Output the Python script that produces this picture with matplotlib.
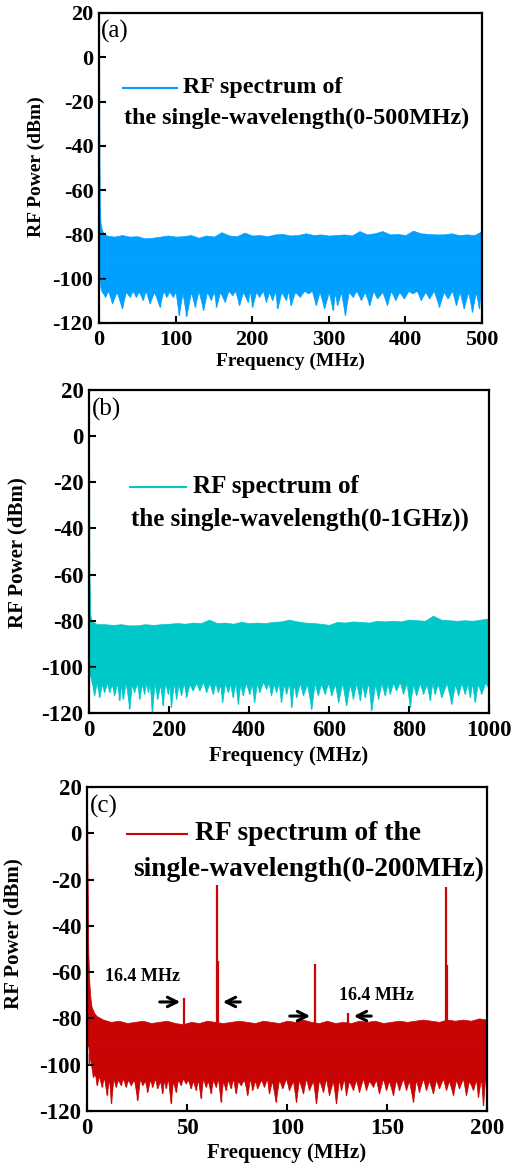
import matplotlib
matplotlib.use('Agg')
import matplotlib.pyplot as plt

plt.rcParams['font.family'] = ['Liberation Serif', 'DejaVu Serif']
plt.rcParams['font.weight'] = 'bold'
plt.rcParams['axes.labelweight'] = 'bold'
plt.rcParams['axes.unicode_minus'] = False

# ---- panel (a): 0-500 MHz, noise floor ----
f_hi_a = [0, 0.5, 1, 2, 3, 5, 10, 20, 30, 40,
          50, 60, 70, 80, 90, 100, 110, 120, 130, 140,
          150, 160, 170, 180, 190, 200, 210, 220, 230, 240,
          250, 260, 270, 280, 290, 300, 310, 320, 330, 340,
          350, 360, 370, 380, 390, 400, 410, 420, 430, 440,
          450, 460, 470, 480, 490, 500]
hi_a = [20, -40, -66, -75, -77, -79, -80.5, -81, -80.3, -81,
        -80.8, -81.8, -81.5, -81, -80.5, -81, -80.8, -80.3, -81.5, -80.5,
        -81, -79, -80.5, -80.8, -79.2, -80.5, -80.3, -80.8, -80, -79.8,
        -80.5, -80.3, -79.5, -80.3, -80, -80.5, -80.3, -80, -80.5, -78.5,
        -80, -79.5, -78.5, -80, -79.8, -80.3, -78.3, -79.5, -79.8, -80,
        -80, -79.5, -80.3, -80, -80.3, -78.5]
# lower edge: deep dips and the floor between them, alternating
f_lo_a = [0, 1, 2, 4, 8, 12, 17, 23, 30, 35,
          40, 44, 48, 52, 57, 61, 66, 72, 79, 84,
          88, 92, 96, 100, 104, 109, 114, 120, 125, 130,
          136, 141, 146, 150, 153, 158, 164, 169, 174, 178,
          183, 188, 194, 197, 200, 205, 209, 214, 218, 222,
          226, 230, 233, 238, 244, 247, 250, 256, 262, 268,
          273, 278, 283, 288, 294, 300, 305, 308, 311, 316,
          321, 326, 331, 336, 342, 347, 353, 358, 363, 370,
          376, 381, 387, 392, 398, 404, 409, 415, 420, 426,
          431, 437, 444, 450, 455, 461, 466, 471, 476, 482,
          487, 492, 496, 500]
lo_a = [-97, -100, -104, -106, -108.1, -105.5, -111.1, -106, -113.4, -106,
        -108.1, -105.5, -108.1, -105.8, -109.6, -105.5, -111.1, -106, -112.6, -105.5,
        -108.1, -105.8, -108.1, -106, -116.4, -106.5, -116.8, -106, -112.6, -105.5,
        -114.1, -106, -109.6, -105.8, -112.6, -106, -110.4, -105.5, -107.4, -105.5,
        -111.9, -106, -110.4, -105.5, -112.6, -106, -108.1, -105.5, -110.4, -106,
        -109.6, -105.8, -113.4, -106, -109.6, -105.5, -111.9, -106, -108.1, -105.5,
        -106.6, -105.5, -111.9, -106, -113.4, -106, -114.1, -106.5, -111.9, -106,
        -116.4, -106, -108.1, -105.5, -109.6, -106, -111.9, -105.5, -108.9, -106,
        -111.9, -105.5, -109.6, -106, -108.9, -105.5, -106.6, -105.5, -109.6, -106,
        -108.9, -105.5, -112.6, -106, -108.9, -105.5, -111.9, -106, -113.4, -106,
        -114.9, -106, -113.4, -100]

# ---- panel (b): 0-1000 MHz ----
f_hi_b = [0, 1, 3, 6, 20, 40, 60, 80, 100, 120,
          140, 160, 180, 200, 220, 240, 260, 280, 300, 320,
          340, 360, 380, 400, 420, 440, 460, 480, 500, 520,
          540, 560, 580, 600, 620, 640, 660, 680, 700, 720,
          740, 760, 780, 800, 820, 840, 860, 880, 900, 920,
          940, 960, 980, 1000]
hi_b = [20, -60, -77, -80, -81.5, -81.5, -81.8, -81.5, -82, -82,
        -81.5, -81.8, -81.5, -81.3, -81, -81.3, -80.8, -81, -79.5, -81,
        -80.8, -81.3, -80.5, -81, -80.8, -81, -80.5, -80.3, -79.5, -80.3,
        -80.8, -81, -81.3, -81.8, -80.5, -80.8, -80.3, -80.5, -80.8, -80,
        -80.3, -80, -80.3, -79.5, -79.8, -80, -77.8, -79.5, -79.8, -80,
        -79.8, -80, -79.5, -79]
f_lo_b = [0, 3, 7, 13, 19, 26, 32, 38, 45, 51,
          57, 63, 70, 76, 80, 84, 92, 101, 107, 113,
          120, 126, 132, 138, 143, 147, 152, 157, 164, 171,
          178, 184, 190, 197, 201, 205, 212, 218, 224, 230,
          237, 243, 251, 259, 268, 276, 285, 293, 301, 309,
          316, 322, 328, 333, 340, 347, 353, 359, 366, 372,
          378, 384, 392, 401, 407, 413, 420, 426, 435, 443,
          449, 455, 462, 468, 474, 480, 487, 493, 500, 506,
          512, 518, 527, 535, 545, 556, 564, 572, 580, 589,
          598, 606, 615, 623, 633, 643, 652, 660, 668, 677,
          683, 689, 698, 706, 715, 723, 731, 739, 746, 752,
          760, 768, 777, 785, 794, 802, 810, 818, 827, 835,
          844, 852, 858, 864, 872, 881, 894, 906, 915, 923,
          931, 939, 946, 952, 958, 964, 972, 981, 990, 998,
          1000]
lo_b = [-100, -104, -107, -112.3, -107, -113.1, -107.5, -110.9, -107, -110.9,
        -107.5, -112.3, -107, -114.5, -107.5, -113.8, -107, -118.1, -107.5, -110.9,
        -107, -113.8, -107.5, -111.6, -107, -110.9, -107.5, -119.6, -107, -113.8,
        -107.5, -116.7, -107, -111.6, -107.5, -117.4, -107, -113.8, -107.5, -112.3,
        -107, -113.1, -107.5, -110.2, -107, -110.2, -106.5, -110.9, -107, -111.6,
        -107, -110.9, -107.5, -115.2, -107, -110.9, -107.5, -113.1, -107, -116.0,
        -107.5, -112.3, -107, -111.6, -107.5, -115.2, -107, -110.9, -106.5, -109.4,
        -107, -112.3, -107.5, -110.9, -107, -115.2, -107.5, -111.6, -107, -117.4,
        -107.5, -113.1, -107, -112.3, -107.5, -118.1, -107, -112.3, -107.5, -111.6,
        -107, -112.3, -107.5, -115.2, -107, -116.7, -107.5, -113.8, -107, -114.5,
        -107.5, -113.1, -107, -118.8, -107.5, -113.8, -107, -112.3, -107.5, -111.6,
        -107, -110.2, -106.5, -111.6, -107, -117.4, -107.5, -112.3, -107, -111.6,
        -107.5, -114.5, -107, -111.6, -107.5, -113.1, -107, -116.0, -107.5, -112.3,
        -107, -111.6, -107.5, -113.1, -107, -115.2, -107.5, -111.6, -107, -108.7,
        -105]

# ---- panel (c): 0-200 MHz, with beat notes ----
f_hi_c = [0, 0.3, 0.67, 1.2, 1.7, 2.3, 3.5, 4.8, 6, 8,
          12, 16, 20, 24, 28, 32, 36, 40, 44, 48,
          52, 56, 60, 64, 68, 72, 76, 80, 84, 88,
          92, 96, 100, 104, 108, 112, 116, 120, 124, 128,
          132, 136, 140, 144, 148, 152, 156, 160, 164, 168,
          172, 176, 180, 184, 188, 192, 196, 200]
hi_c = [20, -20, -52, -65, -71, -75, -77.5, -79, -79.5, -80.5,
        -81.5, -81, -82, -81.5, -81, -82, -81.5, -81, -82, -82.5,
        -81.5, -82, -81, -81.5, -82, -81.5, -81, -81.5, -82, -81,
        -81.5, -82, -81, -81.5, -80.5, -81.5, -82, -81, -82, -81.5,
        -82, -81, -81.5, -81, -82, -81.5, -81, -81.5, -81, -80.5,
        -81, -81.5, -80.5, -81, -80.5, -81, -80, -80.5]
f_lo_c = [0, 1, 2, 3, 4, 4.8, 6, 7.3, 8.5, 9.8,
          11, 12, 13.2, 14.3, 15.5, 16.8, 18, 19.3, 20.5, 21.8,
          23.5, 25.2, 26.5, 27.7, 29, 30.2, 31.5, 32.7, 34, 35.2,
          36.5, 37.7, 38.5, 39.3, 40.5, 41.8, 43, 44.3, 45.5, 46.8,
          48, 49.3, 50.5, 51.8, 53, 54.3, 55.5, 56.8, 58, 59.3,
          60.5, 61.8, 63, 64.3, 65.5, 66.8, 68, 69.3, 70.5, 71.8,
          73, 74.3, 75.5, 76.8, 78.5, 80.2, 81.5, 82.7, 84, 85.2,
          87, 88.5, 90, 91, 92.5, 94.3, 96, 97.7, 99.5, 101,
          103, 104.5, 106, 108, 109.5, 111, 113, 114.5, 116, 118,
          119.5, 121, 123, 124.5, 126, 127, 128.5, 129.5, 131, 133,
          134.5, 136, 138, 139.5, 141, 143, 144.5, 146, 148, 149.5,
          151, 153, 154.5, 156, 158, 159.5, 161, 163, 164.5, 166,
          168, 169.5, 171, 173, 174.5, 176, 178, 179.5, 181, 183,
          184.5, 186, 188, 189.5, 191, 193, 194.5, 195.5, 197, 198,
          199, 200]
lo_c = [-85, -95, -100, -105.2, -104, -108.8, -105, -109.5, -105.5, -113.1,
        -106, -116.7, -106, -109.5, -106.5, -108.8, -106, -109.5, -106.5, -108.8,
        -106.5, -115.3, -106, -108.8, -107, -111.7, -106.5, -109.5, -106, -110.2,
        -107, -112.4, -106.5, -110.2, -106, -116.7, -107, -111.7, -106.5, -108.8,
        -106, -108.1, -106.5, -110.2, -107, -110.9, -106.5, -114.5, -106, -109.5,
        -107, -112.4, -106.5, -109.5, -106, -116.0, -107, -110.9, -106.5, -110.2,
        -106, -112.4, -107, -108.8, -106.5, -113.1, -106, -110.9, -107, -110.2,
        -106.5, -109.5, -106, -112.4, -107, -116.0, -106.5, -110.2, -106, -110.9,
        -107, -116.0, -106.5, -112.4, -106, -110.9, -107, -116.7, -106.5, -111.7,
        -106, -113.1, -107, -116.7, -106.5, -110.9, -106, -113.1, -107, -110.9,
        -106.5, -111.7, -106, -110.9, -107, -109.5, -106.5, -112.4, -106, -110.9,
        -107, -113.1, -106.5, -110.9, -106, -110.9, -107, -116.0, -106.5, -111.7,
        -106, -110.9, -107, -112.4, -106.5, -110.2, -106, -110.9, -107, -113.1,
        -106.5, -110.2, -106, -113.1, -107, -110.9, -106.5, -113.8, -106, -117.4,
        -106.5, -104]
spike_f = [48.6, 65.0, 65.4, 114.2, 130.6, 179.5, 179.8]
spike_top = [-71.3, -22.4, -55, -56.5, -77.8, -23.1, -57]

colors = ['#00a0ff', '#00c8c8', '#c80404']
xmax = [500, 1000, 200]
xstep = [100, 200, 50]
labels = ['(a)', '(b)', '(c)']
leg1 = ['RF spectrum of', 'RF spectrum of', 'RF spectrum of the']
leg2 = ['the single-wavelength(0-500MHz)', 'the single-wavelength(0-1GHz))',
        'single-wavelength(0-200MHz)']

fig = plt.figure(figsize=(5.16, 11.66), dpi=100)
rects = [[0.1919, 0.7230, 0.7422, 0.2659],
         [0.1725, 0.3885, 0.7752, 0.2770],
         [0.1686, 0.0472, 0.7752, 0.2779]]
tick_fs = [16, 16.5, 16.5]
lab_fs = [14, 15, 15]
leg_fs = [17.3, 18, 19.8]
# legend layout in axes fraction: handle x0, x1, y1, text1 x, text2 x, y2
leg_pos = [(0.063, 0.204, 0.758, 0.219, 0.065, 0.661),
           (0.1025, 0.2425, 0.700, 0.26, 0.105, 0.601),
           (0.10, 0.25, 0.855, 0.27, 0.115, 0.744)]
ylab_x = [-0.141, -0.155, -0.16]
ylab_y = [0.503, 0.498, 0.546]
xlab_y = [-0.097, -0.102, -0.099]

bands = [(f_lo_a, lo_a, f_hi_a, hi_a),
         (f_lo_b, lo_b, f_hi_b, hi_b),
         (f_lo_c, lo_c, f_hi_c, hi_c)]

for i in range(3):
    ax = fig.add_axes(rects[i])
    c = colors[i]
    f_lo, lo, f_hi, hi = bands[i]
    ax.fill_between(f_lo, lo, -92, color=c, lw=0.5)
    ax.fill_between(f_hi, -92, hi, color=c, lw=0.5)
    ax.vlines(f_lo, lo, -100, color=c, lw=1.0)
    if i == 2:
        ax.vlines(spike_f, -90, spike_top, color=c, lw=1.6)
        ax.text(27.75, -62.1, '16.4 MHz', fontsize=13, ha='center', va='center')
        ax.text(144.75, -70.2, '16.4 MHz', fontsize=13, ha='center', va='center')
        arw = dict(arrowstyle='->', lw=2.2, color='k', mutation_scale=17)
        ax.annotate('', xy=(48, -72.9), xytext=(35, -72.9), arrowprops=arw)
        ax.annotate('', xy=(66.5, -72.9), xytext=(78, -72.9), arrowprops=arw)
        ax.annotate('', xy=(113, -79), xytext=(100, -79), arrowprops=arw)
        ax.annotate('', xy=(132, -79), xytext=(143.5, -79), arrowprops=arw)

    ax.set_xlim(0, xmax[i])
    ax.set_ylim(-120, 20)
    ax.set_xticks(range(0, xmax[i] + 1, xstep[i]))
    ax.set_yticks(range(-120, 21, 20))
    ax.tick_params(direction='in', length=5, width=1.5, labelsize=tick_fs[i], pad=4)
    ax.tick_params(axis='x', pad=5)
    for lbl in ax.get_xticklabels() + ax.get_yticklabels():
        lbl.set_fontweight('bold')
    for s in ax.spines.values():
        s.set_linewidth(1.6)
    ax.set_xlabel('Frequency (MHz)', fontsize=lab_fs[i], fontweight='bold')
    ax.set_ylabel('RF Power (dBm)', fontsize=lab_fs[i], fontweight='bold')
    ax.xaxis.set_label_coords(0.5, xlab_y[i])
    ax.yaxis.set_label_coords(ylab_x[i], ylab_y[i])

    ax.text(0.006, 0.939, labels[i], transform=ax.transAxes, fontsize=18,
            fontweight='normal', ha='left', va='center')
    x0, x1, y1, tx1, tx2, y2 = leg_pos[i]
    ax.plot([x0, x1], [y1, y1], color=c, lw=1.5, transform=ax.transAxes)
    ax.text(tx1, y1, leg1[i], transform=ax.transAxes, fontsize=leg_fs[i],
            ha='left', va='center')
    ax.text(tx2, y2, leg2[i], transform=ax.transAxes, fontsize=leg_fs[i],
            ha='left', va='center')

fig.savefig('out.png', dpi=100)
